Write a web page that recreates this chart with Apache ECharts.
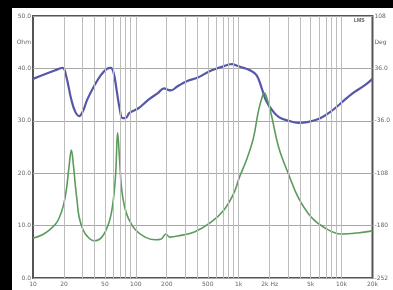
<!DOCTYPE html>
<html>
<head>
<meta charset="utf-8">
<script src="https://cdn.jsdelivr.net/npm/echarts@6/dist/echarts.min.js"></script>
<style>
  html, body { margin: 0; padding: 0; background: #000; }
  #chart { width: 393px; height: 290px; }
</style>
</head>
<body>
<div id="chart"></div>
<script>
// frequency (Hz) and values
const blueFreq = [10, 13, 16.2, 19.4, 21.1, 23.6, 25.8, 28.1, 30.7, 33.6, 39.2, 45.7, 52.2, 57, 60.9, 65, 69.5, 74.3, 79.4, 86.6, 106, 132, 164, 188, 205, 219, 255, 317, 396, 527, 686, 860, 965, 1110, 1270, 1490, 1670, 1850, 2100, 2460, 3070, 3810, 4790, 6200, 7790, 9900, 12900, 16900, 20000];
const blueVal = [38.0, 38.9, 39.6, 40.1, 38.4, 34.0, 31.7, 30.9, 31.9, 34.0, 36.6, 38.7, 39.9, 40.1, 39.1, 35.9, 32.4, 30.5, 30.5, 31.5, 32.4, 34.0, 35.3, 36.2, 35.9, 35.8, 36.6, 37.6, 38.2, 39.5, 40.3, 40.8, 40.5, 40.1, 39.7, 38.7, 36.3, 33.8, 32.1, 30.7, 30.0, 29.6, 29.8, 30.5, 31.7, 33.4, 35.3, 36.8, 38.0];

const greenFreq = [10, 12.2, 14.5, 16.6, 18.1, 19.8, 21.1, 22.6, 23.6, 24.7, 25.8, 26.9, 28.1, 30.7, 33.6, 39.2, 46.7, 54.6, 59.5, 63.6, 66.5, 69.5, 72.7, 77.7, 85, 98.9, 123, 154, 175, 196, 213, 255, 371, 527, 719, 898, 1020, 1190, 1390, 1550, 1700, 1780, 1900, 2080, 2460, 3070, 3810, 5090, 6970, 9900, 14300, 20000];
const greenVal = [7.6, 8.2, 9.2, 10.3, 11.6, 13.9, 16.8, 21.9, 24.4, 21.6, 17.7, 14.5, 11.6, 9.2, 8.0, 7.1, 7.8, 10.5, 13.9, 19.7, 27.7, 22.5, 17.0, 13.6, 11.3, 9.2, 7.8, 7.3, 7.4, 8.4, 7.8, 8.0, 8.8, 10.5, 13.0, 16.2, 19.3, 22.5, 26.7, 31.7, 34.7, 35.3, 34.0, 31.1, 24.8, 19.7, 15.3, 11.6, 9.5, 8.4, 8.6, 9.0];

const gridFreqs = [20, 30, 40, 50, 60, 70, 80, 90, 100, 200, 300, 400, 500, 600, 700, 800, 900, 1000, 2000, 3000, 4000, 5000, 6000, 7000, 8000, 9000, 10000];
const xTickFreqs = [10, 20, 50, 100, 200, 500, 1000, 2000, 5000, 10000, 20000];
const xTickText = ['10', '20', '50', '100', '200', '500', '1k', '2k Hz', '5k', '10k', '20k'];
const leftTicks = [0, 10, 20, 30, 40, 45, 50];
const rightTicks = [-252, -180, -108, -36, 36, 72, 108];

const lg = f => Math.log10(f);
const pairs = (fs, vs) => fs.map((f, i) => [lg(f), vs[i]]);

const chart = echarts.init(document.getElementById('chart'));

const labelStyle = { fontSize: 6, color: '#666', fontFamily: 'DejaVu Sans' };

chart.setOption({
  animation: false,
  backgroundColor: '#000',
  graphic: [
    { type: 'rect', left: 12, top: 8, shape: { width: 381, height: 282 }, style: { fill: '#fff' }, z: -10 },
    { type: 'text', left: 354, top: 18, style: { text: 'LMS', fontSize: 5, fill: '#555', fontWeight: 'bold' } }
  ],
  grid: {
    left: 33, right: 14, top: 16, bottom: 12,
    show: true, borderColor: '#555', borderWidth: 2
  },
  xAxis: {
    type: 'value',
    min: 1,
    max: lg(20000),
    axisLine: { show: false },
    axisTick: { show: false },
    splitLine: { show: false },
    axisLabel: Object.assign({
      customValues: xTickFreqs.map(lg),
      margin: 3,
      formatter: v => {
        const i = xTickFreqs.indexOf(Math.round(Math.pow(10, v)));
        return i >= 0 ? xTickText[i] : '';
      }
    }, labelStyle)
  },
  yAxis: [
    {
      type: 'value',
      min: 0, max: 50, interval: 10,
      axisLine: { show: false },
      axisTick: { show: false },
      splitLine: { lineStyle: { color: '#a8a8a8', width: 1 } },
      axisLabel: Object.assign({
        customValues: leftTicks,
        margin: 2,
        formatter: v => v === 45 ? 'Ohm' : v.toFixed(1)
      }, labelStyle)
    },
    {
      type: 'value',
      position: 'right',
      min: -252, max: 108,
      axisLine: { show: false },
      axisTick: { show: false },
      splitLine: { show: false },
      axisLabel: Object.assign({
        customValues: rightTicks,
        margin: 2,
        formatter: v => v === 72 ? 'Deg' : (Math.abs(v) < 100 ? v.toFixed(1) : String(v))
      }, labelStyle)
    }
  ],
  series: [
    {
      // vertical log grid
      type: 'line',
      data: [],
      z: 1,
      markLine: {
        silent: true,
        symbol: 'none',
        animation: false,
        label: { show: false },
        lineStyle: { color: '#bdbdbd', width: 1, type: 'solid' },
        data: gridFreqs.map(f => ({ xAxis: lg(f) }))
      }
    },
    {
      name: 'blue',
      type: 'line',
      data: pairs(blueFreq, blueVal),
      showSymbol: false,
      smooth: 0.4,
      z: 3,
      lineStyle: { color: '#5558a8', width: 2.2 }
    },
    {
      name: 'green',
      type: 'line',
      data: pairs(greenFreq, greenVal),
      showSymbol: false,
      smooth: 0.4,
      z: 3,
      lineStyle: { color: '#5b9b5b', width: 1.6 }
    }
  ]
});
</script>
</body>
</html>
